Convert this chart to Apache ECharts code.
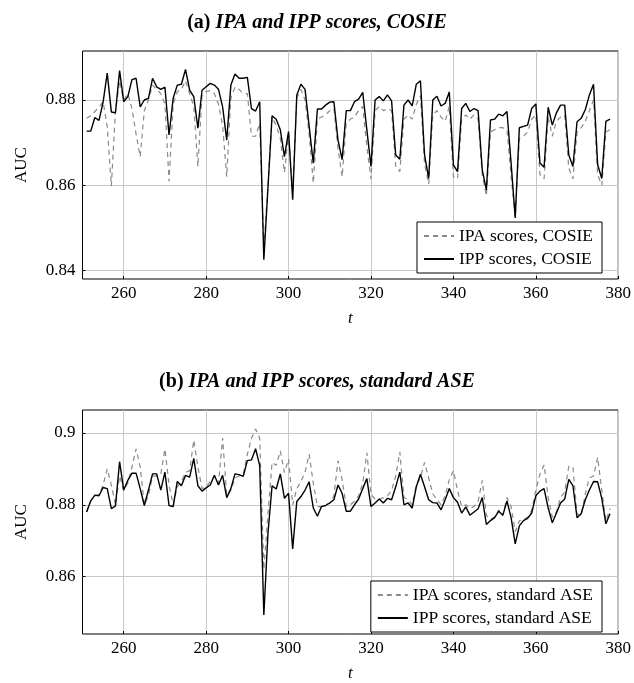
<!DOCTYPE html>
<html>
<head>
<meta charset="utf-8">
<script src="https://cdn.jsdelivr.net/npm/echarts@6/dist/echarts.min.js"></script>
<style>
html,body{margin:0;padding:0;background:#fff;}
#chart{width:634px;height:683px;}
</style>
</head>
<body>
<div id="chart"></div>
<script>
// time steps
const tValues = [251,252,253,254,255,256,257,258,259,260,261,262,263,264,265,266,267,268,269,270,
271,272,273,274,275,276,277,278,279,280,281,282,283,284,285,286,287,288,289,290,
291,292,293,294,295,296,297,298,299,300,301,302,303,304,305,306,307,308,309,310,
311,312,313,314,315,316,317,318,319,320,321,322,323,324,325,326,327,328,329,330,
331,332,333,334,335,336,337,338,339,340,341,342,343,344,345,346,347,348,349,350,
351,352,353,354,355,356,357,358,359,360,361,362,363,364,365,366,367,368,369,370,
371,372,373,374,375,376,377,378];

// (a) COSIE
const ipaCosie = [0.8757,0.8763,0.8773,0.8783,0.8796,0.8738,0.8598,0.8775,0.8845,0.8800,
0.8815,0.8780,0.8720,0.8667,0.8775,0.8800,0.8835,0.8825,0.8815,0.8790,
0.8609,0.8790,0.8820,0.8825,0.8845,0.8815,0.8785,0.8644,0.8810,0.8820,
0.8822,0.8815,0.8790,0.8740,0.8620,0.8805,0.8830,0.8825,0.8815,0.8815,
0.8715,0.8715,0.8745,0.8450,0.8600,0.8760,0.8740,0.8710,0.8630,0.8720,
0.8585,0.8805,0.8825,0.8800,0.8720,0.8605,0.8755,0.8760,0.8765,0.8775,
0.8780,0.8685,0.8620,0.8745,0.8755,0.8760,0.8775,0.8785,0.8690,0.8615,
0.8775,0.8785,0.8775,0.8780,0.8775,0.8645,0.8632,0.8755,0.8765,0.8755,
0.8790,0.8810,0.8650,0.8603,0.8765,0.8775,0.8760,0.8750,0.8785,0.8620,
0.8615,0.8755,0.8765,0.8755,0.8765,0.8755,0.8625,0.8575,0.8725,0.8730,
0.8735,0.8735,0.8730,0.8620,0.8525,0.8710,0.8715,0.8725,0.8755,0.8765,
0.8625,0.8615,0.8760,0.8715,0.8750,0.8760,0.8765,0.8640,0.8615,0.8725,
0.8735,0.8750,0.8775,0.8800,0.8625,0.8600,0.8725,0.8730];

const ippCosie = [0.8727,0.8727,0.8759,0.8752,0.8795,0.8863,0.8772,0.8770,0.8869,0.8796,
0.8808,0.8848,0.8851,0.8784,0.8800,0.8804,0.8851,0.8831,0.8825,0.8830,
0.8718,0.8804,0.8835,0.8837,0.8872,0.8823,0.8808,0.8734,0.8823,0.8831,
0.8839,0.8835,0.8825,0.8784,0.8706,0.8835,0.8861,0.8851,0.8851,0.8853,
0.8780,0.8774,0.8796,0.8425,0.8594,0.8763,0.8755,0.8730,0.8667,0.8726,
0.8566,0.8812,0.8837,0.8825,0.8738,0.8652,0.8779,0.8779,0.8788,0.8795,
0.8796,0.8706,0.8660,0.8775,0.8775,0.8796,0.8802,0.8818,0.8730,0.8644,
0.8800,0.8808,0.8798,0.8812,0.8798,0.8671,0.8661,0.8788,0.8800,0.8786,
0.8837,0.8845,0.8671,0.8616,0.8800,0.8809,0.8786,0.8792,0.8819,0.8648,
0.8632,0.8780,0.8792,0.8773,0.8780,0.8775,0.8636,0.8589,0.8753,0.8755,
0.8767,0.8763,0.8773,0.8652,0.8523,0.8735,0.8738,0.8741,0.8780,0.8791,
0.8652,0.8642,0.8783,0.8741,0.8770,0.8788,0.8788,0.8671,0.8644,0.8749,
0.8757,0.8777,0.8812,0.8837,0.8648,0.8616,0.8750,0.8755];

// (b) standard ASE
const ipaAse = [0.8780,0.8810,0.8825,0.8828,0.8855,0.8900,0.8855,0.8800,0.8880,0.8840,
0.8860,0.8905,0.8956,0.8905,0.8800,0.8825,0.8880,0.8880,0.8885,0.8955,
0.8855,0.8800,0.8850,0.8865,0.8890,0.8895,0.8980,0.8905,0.8845,0.8850,
0.8865,0.8880,0.8860,0.8986,0.8825,0.8840,0.8875,0.8880,0.8885,0.8940,
0.8985,0.9011,0.8986,0.8620,0.8775,0.8918,0.8910,0.8950,0.8890,0.8927,
0.8800,0.8845,0.8865,0.8890,0.8941,0.8860,0.8795,0.8795,0.8800,0.8805,
0.8825,0.8923,0.8870,0.8795,0.8800,0.8810,0.8825,0.8860,0.8945,0.8830,
0.8815,0.8815,0.8820,0.8825,0.8840,0.8880,0.8947,0.8820,0.8815,0.8800,
0.8855,0.8875,0.8918,0.8875,0.8830,0.8815,0.8800,0.8825,0.8870,0.8895,
0.8840,0.8795,0.8800,0.8790,0.8795,0.8810,0.8868,0.8770,0.8760,0.8765,
0.8785,0.8770,0.8820,0.8795,0.8725,0.8755,0.8760,0.8765,0.8785,0.8840,
0.8885,0.8911,0.8820,0.8765,0.8780,0.8820,0.8835,0.8907,0.8905,0.8775,
0.8770,0.8830,0.8875,0.8880,0.8932,0.8840,0.8755,0.8790];

const ippAse = [0.8780,0.8811,0.8827,0.8825,0.8848,0.8845,0.8789,0.8797,0.8920,0.8841,
0.8868,0.8888,0.8888,0.8845,0.8798,0.8841,0.8886,0.8886,0.8841,0.8891,
0.8798,0.8795,0.8865,0.8853,0.8882,0.8877,0.8929,0.8853,0.8838,0.8847,
0.8855,0.8882,0.8855,0.8882,0.8820,0.8845,0.8886,0.8884,0.8879,0.8923,
0.8925,0.8956,0.8909,0.8493,0.8720,0.8853,0.8844,0.8886,0.8818,0.8832,
0.8677,0.8809,0.8823,0.8841,0.8864,0.8791,0.8768,0.8795,0.8798,0.8805,
0.8814,0.8855,0.8832,0.8782,0.8782,0.8800,0.8816,0.8845,0.8873,0.8795,
0.8805,0.8816,0.8805,0.8818,0.8814,0.8850,0.8891,0.8800,0.8805,0.8791,
0.8850,0.8885,0.8850,0.8814,0.8806,0.8805,0.8786,0.8814,0.8845,0.8820,
0.8807,0.8777,0.8794,0.8771,0.8780,0.8789,0.8820,0.8745,0.8756,0.8764,
0.8782,0.8771,0.8811,0.8764,0.8691,0.8741,0.8756,0.8762,0.8777,0.8825,
0.8838,0.8845,0.8791,0.8750,0.8777,0.8805,0.8816,0.8871,0.8853,0.8764,
0.8775,0.8814,0.8841,0.8865,0.8864,0.8818,0.8747,0.8775];

// tick labels
const xTicks = [260,280,300,320,340,360,380];
const yTicksA = [0.84,0.86,0.88];
const yTicksB = [0.86,0.88,0.9];

const names = {
  ipaA: 'IPA scores, COSIE', ippA: 'IPP scores, COSIE',
  ipaB: 'IPA scores, standard ASE', ippB: 'IPP scores, standard ASE'
};

const FONT = 'Liberation Serif';
const pairs = vals => tValues.map((t,i)=>[t, vals[i]]);

function xAxis(gi){
  return {
    type:'value', gridIndex:gi, min:250, max:380,
    name:'t', nameLocation:'middle', nameGap:31,
    nameTextStyle:{fontFamily:FONT, fontStyle:'italic', fontSize:17, color:'#000'},
    axisLine:{show:false},
    axisTick:{show:true, inside:true, length:3, customValues:xTicks, lineStyle:{color:'#000', width:1}},
    axisLabel:{customValues:xTicks, fontFamily:FONT, fontSize:17, color:'#000', margin:6},
    splitLine:{show:true, lineStyle:{color:'#c8c8c8', width:1}}
  };
}
function yAxis(gi, min, max, ticks){
  return {
    type:'value', gridIndex:gi, min:min, max:max,
    name:'AUC', nameLocation:'middle', nameGap:52, nameRotate:90,
    nameTextStyle:{fontFamily:FONT, fontSize:17, color:'#000'},
    axisLine:{show:false},
    axisTick:{show:true, inside:true, length:3, customValues:ticks, lineStyle:{color:'#000', width:1}},
    axisLabel:{customValues:ticks, fontFamily:FONT, fontSize:17, color:'#000', margin:7,
      formatter: v => String(v)},
    splitLine:{show:true, lineStyle:{color:'#c8c8c8', width:1}}
  };
}
function dashed(name, vals, xi){
  return {type:'line', name:name, xAxisIndex:xi, yAxisIndex:xi, data:pairs(vals),
    symbol:'none', z:2, lineStyle:{color:'#8a8a8a', width:1.2, type:[5,4]}, itemStyle:{color:'#8a8a8a'}};
}
function solid(name, vals, xi){
  return {type:'line', name:name, xAxisIndex:xi, yAxisIndex:xi, data:pairs(vals),
    symbol:'none', z:3, lineStyle:{color:'#000', width:1.4}, itemStyle:{color:'#000'}};
}
function legend(data, top){
  return {
    data:data, orient:'vertical', right:32, top:top,
    backgroundColor:'#fff', borderColor:'#000', borderWidth:1,
    padding:[5,9,5,6], itemGap:5, itemWidth:30, itemHeight:14,
    itemStyle:{color:'rgba(0,0,0,0)', borderWidth:0, opacity:0},
    textStyle:{fontFamily:FONT, fontSize:17.5, color:'#000'},
    selectedMode:false
  };
}
const titleRich = {
  b:{fontFamily:FONT, fontSize:20, fontWeight:'bold', color:'#000'},
  i:{fontFamily:FONT, fontSize:20, fontStyle:'italic', color:'#000'}
};

const chart = echarts.init(document.getElementById('chart'), null, {renderer:'canvas'});
chart.setOption({
  animation:false,
  backgroundColor:'#fff',
  title:[
    {text:'{b|(a)} {i|IPA and IPP scores, COSIE}', left:'center', top:8, textStyle:{rich:titleRich}},
    {text:'{b|(b)} {i|IPA and IPP scores, standard ASE}', left:'center', top:367, textStyle:{rich:titleRich}}
  ],
  grid:[
    {left:82.5, top:51, width:536.5, height:228, show:true, borderColor:'#000', borderWidth:1, backgroundColor:'transparent'},
    {left:82.5, top:410, width:536.5, height:228, show:true, borderColor:'#000', borderWidth:1, backgroundColor:'transparent'}
  ],
  legend:[ legend([names.ipaA, names.ippA], 222), legend([names.ipaB, names.ippB], 581) ],
  xAxis:[ xAxis(0), xAxis(1) ],
  yAxis:[ yAxis(0, 0.838, 0.8915, yTicksA), yAxis(1, 0.844, 0.9064, yTicksB) ],
  series:[
    dashed(names.ipaA, ipaCosie, 0), solid(names.ippA, ippCosie, 0),
    dashed(names.ipaB, ipaAse, 1), solid(names.ippB, ippAse, 1)
  ]
});
</script>
</body>
</html>
